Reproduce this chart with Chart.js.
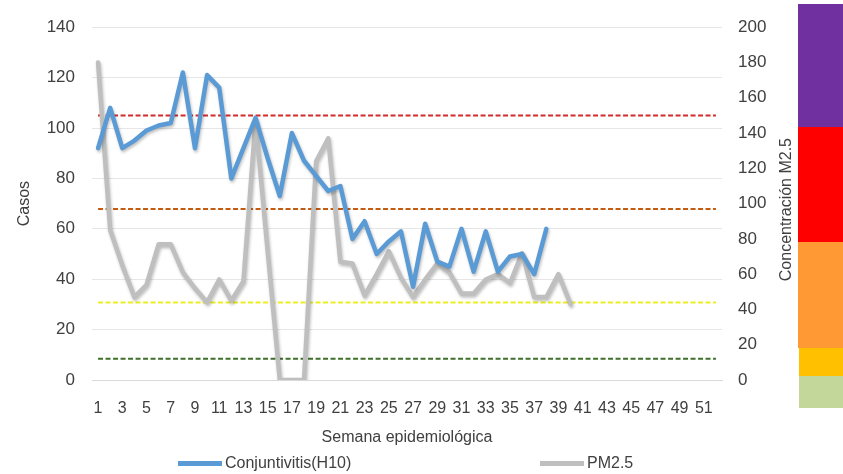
<!DOCTYPE html>
<html><head><meta charset="utf-8">
<script src="https://cdn.jsdelivr.net/npm/chart.js@4.4.0/dist/chart.umd.min.js"></script>
<style>
html,body{margin:0;padding:0;background:#fff;}
#wrap{position:relative;width:843px;height:474px;overflow:hidden;font-family:'Liberation Sans',Arial,sans-serif;color:#404040;}
#c{position:absolute;left:0;top:0;}
.band{position:absolute;}
.leg{position:absolute;top:454px;height:18px;display:flex;align-items:center;font-size:16px;white-space:nowrap;color:#404040;}
.sw{display:inline-block;width:44px;height:5px;margin-right:3px;}
</style></head>
<body>
<div id="wrap">
<canvas id="c" width="843" height="474"></canvas>
<div class="band" style="left:798px;top:4px;width:45px;height:123px;background:#7030A0"></div>
<div class="band" style="left:798px;top:127px;width:45px;height:115px;background:#FF0000"></div>
<div class="band" style="left:798px;top:242px;width:45px;height:106px;background:#FF9933"></div>
<div class="band" style="left:799px;top:348px;width:44px;height:28px;background:#FFC000"></div>
<div class="band" style="left:799px;top:376px;width:44px;height:32px;background:#C4D79B"></div>
<div class="leg" id="leg0" style="left:178px"></div>
<div class="leg" id="leg1" style="left:540px"></div>
</div>
<script>
// ---- data ----
const weeks = ['1','2','3','4','5','6','7','8','9','10','11','12','13','14','15','16','17','18','19','20','21','22','23','24','25','26','27','28','29','30','31','32','33','34','35','36','37','38','39','40','41','42','43','44','45','46','47','48','49','50','51','52'];
const conjuntivitis = [92,108,92,95,99,101,102,122,92,121,116,80,92,104,88,73,98,87,81,75,77,56,63,50,55,59,37,62,47,45,60,43,59,43,49,50,42,60];
const pm25 = [180,85,65,47,54,77,77,61,52,44,57,45,56,147,73,0,0,0,124,137,67,66,48,60,73,58,47,57,66,61,49,49,57,60,55,72,47,47,60,43];
const thresholds = [150, 97, 44, 12];
const seriesNames = ['Conjuntivitis(H10)', 'PM2.5'];
const xTitle = 'Semana epidemiológica';
const leftTitle = 'Casos';
const rightTitle = 'Concentración M2.5';

// ---- styles ----
const FONT = "'Liberation Sans', Arial, sans-serif";
const TXT = '#404040';
const thresholdColors = ['#D42A2A', '#C55A11', '#EEEE22', '#3F6F2A'];

const datasets = [
  {label: seriesNames[0], data: conjuntivitis, yAxisID: 'y', borderColor: '#5B9BD5', backgroundColor: '#5B9BD5',
   borderWidth: 4.5, pointRadius: 0, tension: 0, borderJoinStyle: 'round', borderCapStyle: 'round', shadow: true},
  {label: seriesNames[1], data: pm25, yAxisID: 'y1', borderColor: '#BFBFBF', backgroundColor: '#BFBFBF',
   borderWidth: 4.5, pointRadius: 0, tension: 0, borderJoinStyle: 'round', borderCapStyle: 'round', shadow: true}
];
thresholds.forEach((v, i) => {
  datasets.push({label: 'lim' + i, data: [{x: weeks[0], y: v}, {x: weeks[weeks.length - 1], y: v}], yAxisID: 'y1',
    borderColor: thresholdColors[i], borderWidth: 2, borderDash: [5, 2.5], pointRadius: 0, tension: 0});
});

const shadowPlugin = {
  id: 'shadowPlugin',
  beforeDatasetDraw(chart, args) {
    if (chart.data.datasets[args.index].shadow) {
      const ctx = chart.ctx; ctx.save();
      ctx.shadowColor = 'rgba(0,0,0,0.25)'; ctx.shadowBlur = 3; ctx.shadowOffsetX = 1; ctx.shadowOffsetY = 2;
    }
  },
  afterDatasetDraw(chart, args) {
    if (chart.data.datasets[args.index].shadow) chart.ctx.restore();
  }
};
const rightTitlePlugin = {
  id: 'rightTitlePlugin',
  afterDraw(chart) {
    const s = chart.scales.y1, ctx = chart.ctx;
    ctx.save();
    ctx.font = '16px ' + FONT; ctx.fillStyle = TXT; ctx.textAlign = 'center'; ctx.textBaseline = 'middle';
    ctx.translate(s.right - 10, (chart.chartArea.top + chart.chartArea.bottom) / 2 + 6);
    ctx.rotate(-Math.PI / 2);
    ctx.fillText(rightTitle, 0, 0);
    ctx.restore();
  }
};

const chart = new Chart(document.getElementById('c'), {
  type: 'line',
  data: {labels: weeks, datasets: datasets},
  options: {
    responsive: false, animation: false, devicePixelRatio: 1,
    layout: {padding: {top: 23, left: 0, right: 46, bottom: 24}},
    plugins: {legend: {display: false}, tooltip: {enabled: false}},
    scales: {
      x: {
        type: 'category', offset: true,
        grid: {display: false, drawTicks: false},
        border: {display: true, color: '#D9D9D9', width: 1},
        ticks: {autoSkip: false, maxRotation: 0, minRotation: 0, padding: 19, color: TXT, font: {family: FONT, size: 16},
          callback: function(v, i) { return i % 2 === 0 ? this.getLabelForValue(v) : ''; }},
        title: {display: true, text: xTitle, color: TXT, font: {family: FONT, size: 16}, padding: {top: 0, bottom: 3}},
        afterFit(s) { s.height = 70; }
      },
      y: {
        position: 'left', min: 0, max: 140,
        grid: {color: '#E6E6E6', drawTicks: false},
        border: {display: false},
        ticks: {stepSize: 20, padding: 17, color: TXT, font: {family: FONT, size: 17}},
        title: {display: true, text: leftTitle, color: TXT, font: {family: FONT, size: 16}, padding: {top: 15, bottom: 0}},
        afterFit(s) { s.width = 92; }
      },
      y1: {
        position: 'right', min: 0, max: 200,
        grid: {drawOnChartArea: false, drawTicks: false},
        border: {display: false},
        ticks: {stepSize: 20, padding: 16, color: TXT, font: {family: FONT, size: 17}},
        afterFit(s) { s.width = 75; }
      }
    }
  },
  plugins: [shadowPlugin, rightTitlePlugin]
});

// HTML legend from the chart's own datasets
[0, 1].forEach(i => {
  const ds = chart.data.datasets[i];
  const el = document.getElementById('leg' + i);
  const sw = document.createElement('span'); sw.className = 'sw'; sw.style.background = ds.borderColor;
  el.appendChild(sw);
  el.appendChild(document.createTextNode(ds.label));
});
</script>
</body></html>
